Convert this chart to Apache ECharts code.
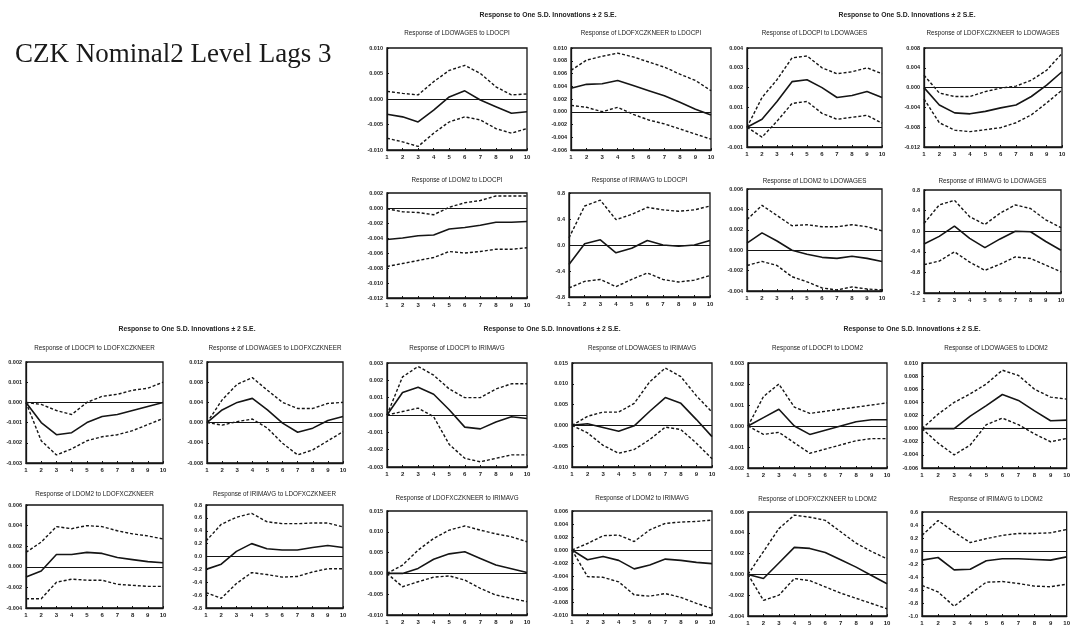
<!DOCTYPE html>
<html><head><meta charset="utf-8">
<script src="https://cdn.jsdelivr.net/npm/echarts@6/dist/echarts.min.js"></script>
<style>html,body{margin:0;padding:0;background:#fff}#c{width:1073px;height:627px}</style>
</head><body><div id="c"></div>
<script>
// ---------- text ----------
const periods = ['1','2','3','4','5','6','7','8','9','10'];
const mainTitle = 'CZK Nominal2 Level Lags 3';
const groupHeader = 'Response to One S.D. Innovations \u00b1 2 S.E.';
const panelTitles = [
  'Response of LDOWAGES to LDOCPI','Response of LDOFXCZKNEER to LDOCPI',
  'Response of LDOCPI to LDOWAGES','Response of LDOFXCZKNEER to LDOWAGES',
  'Response of LDOM2 to LDOCPI','Response of IRIMAVG to LDOCPI',
  'Response of LDOM2 to LDOWAGES','Response of IRIMAVG to LDOWAGES',
  'Response of LDOCPI to LDOFXCZKNEER','Response of LDOWAGES to LDOFXCZKNEER',
  'Response of LDOCPI to IRIMAVG','Response of LDOWAGES to IRIMAVG',
  'Response of LDOCPI to LDOM2','Response of LDOWAGES to LDOM2',
  'Response of LDOM2 to LDOFXCZKNEER','Response of IRIMAVG to LDOFXCZKNEER',
  'Response of LDOFXCZKNEER to IRIMAVG','Response of LDOM2 to IRIMAVG',
  'Response of LDOFXCZKNEER to LDOM2','Response of IRIMAVG to LDOM2'
];

// ---------- data (response, upper band, lower band, y ticks) ----------
const a1Mid = [-0.003,-0.0035,-0.0045,-0.0022,0.0004,0.0016,-0.0002,-0.0015,-0.0028,-0.0025];
const a1Up  = [0.0015,0.0011,0.0008,0.0034,0.0056,0.0066,0.005,0.0024,0.0008,0.001];
const a1Lo  = [-0.0077,-0.0084,-0.0093,-0.0067,-0.0045,-0.0035,-0.0041,-0.0058,-0.0067,-0.0058];
const a1Ticks = [-0.010,-0.005,0.000,0.005,0.010];

const a2Mid = [0.0037,0.0043,0.0044,0.0049,0.0041,0.0033,0.0025,0.0015,0.0004,-0.0005];
const a2Up  = [0.0065,0.0081,0.0087,0.0092,0.0086,0.0078,0.007,0.0059,0.0049,0.0033];
const a2Lo  = [0.001,0.0007,0.0,0.0007,-0.0004,-0.0013,-0.0019,-0.0027,-0.0035,-0.0043];
const a2Ticks = [-0.006,-0.004,-0.002,0.000,0.002,0.004,0.006,0.008,0.010];

const b1Mid = [0,0.0004,0.0013,0.0023,0.0024,0.002,0.0015,0.0016,0.0018,0.0015];
const b1Up  = [0,0.0015,0.0024,0.0035,0.0036,0.003,0.0027,0.0028,0.003,0.0027];
const b1Lo  = [0,-0.0005,0.0003,0.0012,0.0013,0.0007,0.0004,0.0005,0.0006,0.0002];
const b1Ticks = [-0.001,0.000,0.001,0.002,0.003,0.004];

const b2Mid = [0,-0.0035,-0.0051,-0.0053,-0.0048,-0.0041,-0.0035,-0.0018,0.0005,0.0032];
const b2Up  = [0.0025,-0.0011,-0.0018,-0.0018,-0.0008,-0.0001,0.0003,0.0015,0.0035,0.0069];
const b2Lo  = [-0.0023,-0.0071,-0.0086,-0.0089,-0.0085,-0.0081,-0.0071,-0.0055,-0.0031,-0.0005];
const b2Ticks = [-0.012,-0.008,-0.004,0.000,0.004,0.008];

const a3Mid = [-0.0042,-0.004,-0.0037,-0.0036,-0.0028,-0.0026,-0.0023,-0.0019,-0.0019,-0.0018];
const a3Up  = [-0.0001,-0.0005,-0.0006,-0.0009,0.0001,0.0007,0.001,0.0016,0.0016,0.0016];
const a3Lo  = [-0.0078,-0.0074,-0.007,-0.0066,-0.0058,-0.006,-0.0058,-0.0055,-0.0055,-0.0053];
const a3Ticks = [-0.012,-0.010,-0.008,-0.006,-0.004,-0.002,0.000,0.002];

const a4Mid = [-0.3,0.02,0.08,-0.12,-0.05,0.07,0.0,-0.02,0.0,0.07];
const a4Up  = [0.11,0.6,0.69,0.39,0.47,0.58,0.54,0.52,0.54,0.6];
const a4Lo  = [-0.66,-0.56,-0.53,-0.64,-0.53,-0.43,-0.53,-0.57,-0.54,-0.47];
const a4Ticks = [-0.8,-0.4,0.0,0.4,0.8];

const b3Mid = [0.0007,0.0017,0.0009,0.0,-0.0004,-0.0007,-0.0008,-0.0006,-0.0008,-0.0011];
const b3Up  = [0.003,0.0044,0.0034,0.0024,0.0025,0.0023,0.0023,0.0025,0.0023,0.0019];
const b3Lo  = [-0.0015,-0.0011,-0.0015,-0.0026,-0.0031,-0.0037,-0.0039,-0.0036,-0.0038,-0.0039];
const b3Ticks = [-0.004,-0.002,0.000,0.002,0.004,0.006];

const b4Mid = [-0.25,-0.1,0.1,-0.14,-0.32,-0.15,0.0,-0.01,-0.2,-0.37];
const b4Up  = [0.15,0.51,0.6,0.28,0.13,0.35,0.51,0.44,0.22,0.07];
const b4Lo  = [-0.65,-0.58,-0.4,-0.6,-0.76,-0.64,-0.5,-0.53,-0.66,-0.79];
const b4Ticks = [-1.2,-0.8,-0.4,0.0,0.4,0.8];

const c1Mid = [0,-0.001,-0.0016,-0.0015,-0.001,-0.0007,-0.0006,-0.0004,-0.0002,0];
const c1Up  = [0,-0.0001,-0.0004,-0.0006,0.0,0.0003,0.0004,0.0006,0.0007,0.001];
const c1Lo  = [0,-0.0019,-0.0026,-0.0023,-0.0019,-0.0017,-0.0016,-0.0014,-0.0011,-0.0008];
const c1Ticks = [-0.003,-0.002,-0.001,0.000,0.001,0.002];

const c2Mid = [0,0.0025,0.004,0.0048,0.0025,-0.0001,-0.0019,-0.0011,0.0004,0.0012];
const c2Up  = [0,0.0045,0.0076,0.0089,0.0064,0.004,0.0028,0.0028,0.0038,0.004];
const c2Lo  = [0,-0.0005,0.0002,0.0007,-0.0011,-0.0041,-0.0064,-0.0054,-0.0036,-0.0018];
const c2Ticks = [-0.008,-0.004,0.000,0.004,0.008,0.012];

const d1Mid = [0,0.0013,0.0016,0.0012,0.0003,-0.0007,-0.0008,-0.0004,-0.0001,-0.0002];
const d1Up  = [0,0.0022,0.0028,0.0023,0.0015,0.001,0.001,0.0015,0.0018,0.0018];
const d1Lo  = [0,0.0002,0.0004,-0.0001,-0.0017,-0.0025,-0.0027,-0.0025,-0.0023,-0.0023];
const d1Ticks = [-0.003,-0.002,-0.001,0.000,0.001,0.002,0.003];

const d2Mid = [0,0.0004,-0.0005,-0.0014,-0.0001,0.0034,0.0067,0.0053,0.0014,-0.0027];
const d2Up  = [0,0.0022,0.0032,0.0032,0.0053,0.0105,0.0138,0.0117,0.0071,0.0032];
const d2Lo  = [0,-0.0018,-0.0048,-0.0067,-0.0058,-0.0034,-0.0004,-0.001,-0.0043,-0.008];
const d2Ticks = [-0.010,-0.005,0.000,0.005,0.010,0.015];

const e1Mid = [0,0.0004,0.0008,0.0,-0.0004,-0.0002,0,0.0002,0.0003,0.0003];
const e1Up  = [0,0.0014,0.002,0.0009,0.0006,0.0007,0.0008,0.0009,0.001,0.0011];
const e1Lo  = [0,-0.0004,-0.0003,-0.0008,-0.0013,-0.0011,-0.0009,-0.0007,-0.0006,-0.0006];
const e1Ticks = [-0.002,-0.001,0.000,0.001,0.002,0.003];

const e2Mid = [0,0,0,0.0019,0.0035,0.0052,0.0043,0.0027,0.0012,0.0013];
const e2Up  = [0,0.0022,0.004,0.0053,0.0068,0.0089,0.0081,0.006,0.0048,0.0045];
const e2Lo  = [0,-0.0022,-0.004,-0.0025,0.0006,0.0016,0.0006,-0.0008,-0.002,-0.0015];
const e2Ticks = [-0.006,-0.004,-0.002,0.000,0.002,0.004,0.006,0.008,0.010];

const c3Mid = [-0.001,-0.0004,0.0012,0.0012,0.0014,0.0013,0.0009,0.0007,0.0005,0.0004];
const c3Up  = [0.0014,0.0024,0.0039,0.0037,0.004,0.0039,0.0035,0.0032,0.003,0.0027];
const c3Lo  = [-0.0031,-0.0031,-0.0015,-0.0012,-0.0013,-0.0013,-0.0017,-0.0018,-0.0019,-0.0019];
const c3Ticks = [-0.004,-0.002,0.000,0.002,0.004,0.006];

const c4Mid = [-0.2,-0.12,0.08,0.2,0.12,0.1,0.1,0.14,0.17,0.14];
const c4Up  = [0.24,0.5,0.61,0.67,0.54,0.51,0.51,0.52,0.52,0.46];
const c4Lo  = [-0.56,-0.65,-0.42,-0.25,-0.28,-0.32,-0.31,-0.24,-0.19,-0.19];
const c4Ticks = [-0.8,-0.6,-0.4,-0.2,0.0,0.2,0.4,0.6,0.8];

const d3Mid = [0,0.0,0.0012,0.0034,0.0047,0.0052,0.0036,0.002,0.0011,0.0002];
const d3Up  = [0,0.002,0.0056,0.0084,0.0104,0.0114,0.0104,0.0095,0.0088,0.0076];
const d3Lo  = [0,-0.0032,-0.002,-0.0009,-0.0006,-0.0016,-0.0036,-0.0052,-0.006,-0.0068];
const d3Ticks = [-0.010,-0.005,0.000,0.005,0.010,0.015];

const d4Mid = [0,-0.0015,-0.001,-0.0016,-0.0029,-0.0023,-0.0014,-0.0016,-0.0019,-0.0021];
const d4Up  = [0,0.001,0.0022,0.0023,0.0013,0.0031,0.0041,0.0043,0.0044,0.0046];
const d4Lo  = [0,-0.0041,-0.0042,-0.0049,-0.0069,-0.0071,-0.0067,-0.0073,-0.0082,-0.009];
const d4Ticks = [-0.010,-0.008,-0.006,-0.004,-0.002,0.000,0.002,0.004,0.006];

const e3Mid = [0,-0.0004,0.0011,0.0026,0.0025,0.0021,0.0014,0.0007,-0.0001,-0.0009];
const e3Up  = [0,0.0022,0.0044,0.0057,0.0055,0.0052,0.0041,0.003,0.0022,0.0015];
const e3Lo  = [0,-0.0025,-0.002,-0.0004,-0.0006,-0.0012,-0.0018,-0.0023,-0.0028,-0.0033];
const e3Ticks = [-0.004,-0.002,0.000,0.002,0.004,0.006];

const e4Mid = [-0.14,-0.1,-0.29,-0.28,-0.15,-0.12,-0.12,-0.13,-0.14,-0.09];
const e4Up  = [0.24,0.47,0.29,0.13,0.19,0.24,0.27,0.27,0.28,0.33];
const e4Lo  = [-0.53,-0.63,-0.85,-0.66,-0.48,-0.47,-0.5,-0.54,-0.55,-0.51];
const e4Ticks = [-1.0,-0.8,-0.6,-0.4,-0.2,0.0,0.2,0.4,0.6];

// ---------- assemble ----------
const panelData = [
  [a1Mid,a1Up,a1Lo,a1Ticks],[a2Mid,a2Up,a2Lo,a2Ticks],[b1Mid,b1Up,b1Lo,b1Ticks],[b2Mid,b2Up,b2Lo,b2Ticks],
  [a3Mid,a3Up,a3Lo,a3Ticks],[a4Mid,a4Up,a4Lo,a4Ticks],[b3Mid,b3Up,b3Lo,b3Ticks],[b4Mid,b4Up,b4Lo,b4Ticks],
  [c1Mid,c1Up,c1Lo,c1Ticks],[c2Mid,c2Up,c2Lo,c2Ticks],[d1Mid,d1Up,d1Lo,d1Ticks],[d2Mid,d2Up,d2Lo,d2Ticks],
  [e1Mid,e1Up,e1Lo,e1Ticks],[e2Mid,e2Up,e2Lo,e2Ticks],[c3Mid,c3Up,c3Lo,c3Ticks],[c4Mid,c4Up,c4Lo,c4Ticks],
  [d3Mid,d3Up,d3Lo,d3Ticks],[d4Mid,d4Up,d4Lo,d4Ticks],[e3Mid,e3Up,e3Lo,e3Ticks],[e4Mid,e4Up,e4Lo,e4Ticks]
];

// layout: [left, top, width, height, titleY]
const layout = [
  [387,48,140,102,33],[571,48,140,102,33],[747,48,135,99,33],[924,48,138,99,33],
  [387,193,140,105,180],[569,193,141,104,180],[747,189,135,102,181],[924,190,137,103,181],
  [26,362,137,101,348],[207,362,136,101,348],[387,363,140,104,348],[572,363,140,104,348],
  [748,363,139,105,348],[922,363,148,105,348],[26,505,137,103,494],[206,505,137,103,494],
  [387,511,140,104,498],[572,511,140,104,498],[748,512,139,104,499],[922,512,148,104,499]
];
const headerPos = [[548,15],[907,15],[187,329],[552,329],[912,329]];

const INK = '#151515';
const grids = [], xAxes = [], yAxes = [], series = [], graphics = [];

graphics.push({type:'text', left:15, top:41, style:{text:mainTitle, fontFamily:'Liberation Serif', fontSize:27, fill:'#1a1a1a'}});
headerPos.forEach(p => graphics.push({type:'text', x:p[0], y:p[1], style:{text:groupHeader, fontFamily:'Liberation Sans', fontSize:6.8, fontWeight:'bold', fill:'#222', align:'center', verticalAlign:'middle'}}));

panelData.forEach((pd, i) => {
  const [mid, up, lo, ticks] = pd;
  const [l, t, w, h, ty] = layout[i];
  const step = Number((ticks[1] - ticks[0]).toFixed(6));
  const dec = step >= 0.1 ? 1 : 3;
  grids.push({left:l, top:t, width:w, height:h, show:true, borderColor:INK, borderWidth:1.3, backgroundColor:'transparent', containLabel:false});
  xAxes.push({type:'category', gridIndex:i, data:periods, boundaryGap:false,
    axisLine:{show:true, onZero:false, lineStyle:{color:INK, width:1.3}},
    axisTick:{show:true, inside:true, length:2, lineStyle:{color:INK}},
    axisLabel:{interval:0, fontSize:6, fontWeight:'bold', color:'#222', margin:4, fontFamily:'Liberation Sans'},
    splitLine:{show:false}});
  yAxes.push({type:'value', gridIndex:i, min:ticks[0], max:ticks[ticks.length-1], interval:step,
    axisLine:{show:true, lineStyle:{color:INK, width:1.3}},
    axisTick:{show:true, inside:true, length:2, lineStyle:{color:INK}},
    axisLabel:{fontSize:5.5, fontWeight:'bold', color:'#222', margin:4, fontFamily:'Liberation Sans',
      formatter: v => v.toFixed(dec)},
    splitLine:{show:false}});
  graphics.push({type:'text', x:l + w/2, y:ty, style:{text:panelTitles[i], fontFamily:'Liberation Sans', fontSize:6.3, fill:'#1a1a1a', align:'center', verticalAlign:'middle'}});
  const base = {type:'line', xAxisIndex:i, yAxisIndex:i, symbol:'none', silent:true, animation:false};
  series.push(Object.assign({}, base, {data:mid, lineStyle:{color:INK, width:1.6, type:'solid'},
    markLine:{silent:true, symbol:['none','none'], label:{show:false}, data:[{yAxis:0}], lineStyle:{color:INK, width:1.1, type:'solid'}}}));
  series.push(Object.assign({}, base, {data:up, lineStyle:{color:INK, width:1.4, type:[3,2]}}));
  series.push(Object.assign({}, base, {data:lo, lineStyle:{color:INK, width:1.4, type:[3,2]}}));
});

const chart = echarts.init(document.getElementById('c'), null, {renderer:'canvas'});
chart.setOption({animation:false, backgroundColor:'#fff', grid:grids, xAxis:xAxes, yAxis:yAxes, series:series, graphic:graphics});
</script></body></html>
